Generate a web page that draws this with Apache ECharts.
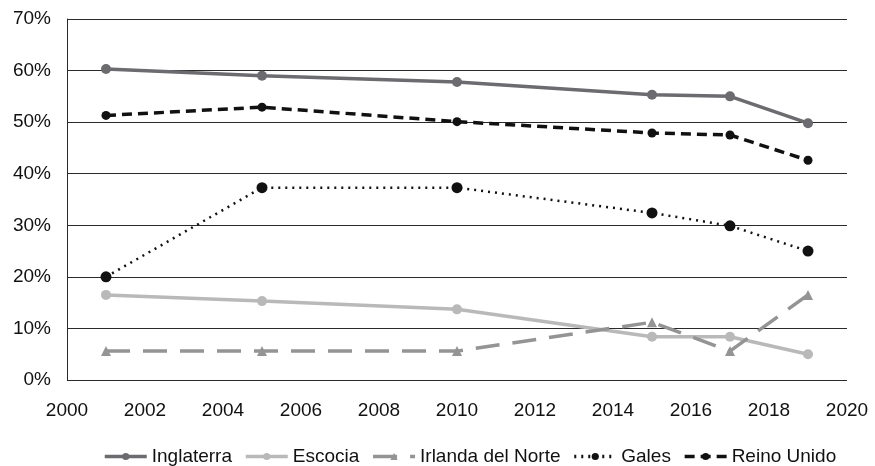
<!DOCTYPE html>
<html><head><meta charset="utf-8">
<script src="https://cdn.jsdelivr.net/npm/echarts@6/dist/echarts.min.js"></script>
<style>html,body{margin:0;padding:0;background:#fff}#c{width:875px;height:466px}</style>
</head><body><div id="c"></div>
<script>
const years = [2001, 2005, 2010, 2015, 2017, 2019];
const inglaterra = [60.3, 59.0, 57.8, 55.3, 55.0, 49.8];
const escocia = [16.5, 15.3, 13.7, 8.4, 8.4, 5.0];
const irlanda = [5.6, 5.6, 5.6, 11.2, 5.6, 16.5];
const gales = [20.0, 37.3, 37.3, 32.4, 29.9, 25.0];
const reino = [51.3, 52.9, 50.1, 47.9, 47.5, 42.6];
const names = ['Inglaterra', 'Escocia', 'Irlanda del Norte', 'Gales', 'Reino Unido'];

const pair = a => years.map((y, i) => [y, a[i]]);
const font = 'Helvetica, "Liberation Sans", Arial, sans-serif';
function s(name, data, color, type, width, symbol, size) {
  return {
    name, type: 'line', data: pair(data), symbol, symbolSize: size,
    itemStyle: { color },
    lineStyle: { color, width, type },
    emphasis: { disabled: true }, animation: false
  };
}
const chart = echarts.init(document.getElementById('c'));
chart.setOption({
  animation: false,
  textStyle: { fontFamily: font },
  grid: { left: 67, right: 28, top: 19, bottom: 86 },
  legend: {
    top: 442, left: 98, itemWidth: 42, itemHeight: 9, itemGap: 12,
    lineStyle: { width: 3.5 },
    textStyle: { fontSize: 19, color: '#111', fontFamily: font },
    data: names
  },
  xAxis: {
    type: 'value', min: 2000, max: 2020, interval: 2,
    axisLine: { show: false }, axisTick: { show: false }, splitLine: { show: false },
    axisLabel: { fontSize: 19, color: '#111', margin: 21, formatter: v => String(v) }
  },
  yAxis: {
    type: 'value', min: 0, max: 70, interval: 10,
    axisLine: { show: true, lineStyle: { color: '#2a2a2a', width: 1 } },
    axisTick: { show: false },
    splitLine: { lineStyle: { color: '#2a2a2a', width: 1 } },
    axisLabel: { fontSize: 19, color: '#111', formatter: '{value}%', margin: 16 }
  },
  series: [
    s('Inglaterra', inglaterra, '#6b6b70', 'solid', 3.5, 'circle', 10),
    s('Escocia', escocia, '#b9b9b9', 'solid', 3.5, 'circle', 10),
    s('Irlanda del Norte', irlanda, '#949494', [24, 13], 3.5, 'triangle', 10),
    s('Gales', gales, '#111111', [2, 5], 2.5, 'circle', 11),
    s('Reino Unido', reino, '#111111', [10, 6], 3.5, 'circle', 9)
  ]
});
</script></body></html>
